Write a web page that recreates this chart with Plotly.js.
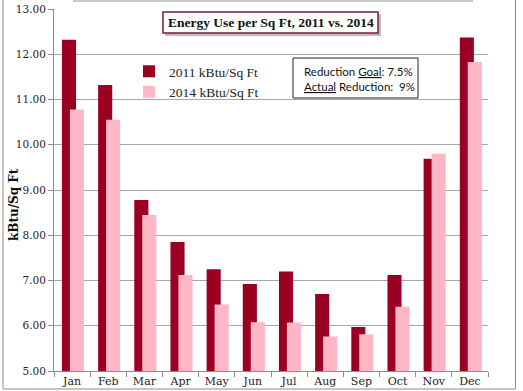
<!DOCTYPE html>
<html>
<head>
<meta charset="utf-8">
<script src="https://cdn.plot.ly/plotly-3.0.1.min.js"></script>
<style>html,body{margin:0;padding:0;background:#fff;}#chart{width:523px;height:391px;}</style>
</head>
<body>
<div id="chart"></div>
<script>
const months = ["Jan","Feb","Mar","Apr","May","Jun","Jul","Aug","Sep","Oct","Nov","Dec"];
const use2011 = [12.32, 11.32, 8.78, 7.85, 7.25, 6.92, 7.20, 6.70, 5.97, 7.12, 9.69, 12.37];
const use2014 = [10.78, 10.55, 8.45, 7.12, 6.47, 6.08, 6.07, 5.76, 5.81, 6.42, 9.80, 11.83];
const yTicks = [5, 6, 7, 8, 9, 10, 11, 12, 13];
const yTickText = yTicks.map(v => v.toFixed(2));
const seriesNames = ["2011 kBtu/Sq Ft", "2014 kBtu/Sq Ft"];

// plot area in px
const L = 54, R = 488, T = 9, B = 371;
const W = 523, H = 391;
const px = x => (x - L) / (R - L);
const py = y => (B - y) / (B - T);

const serif = "DejaVu Serif, serif";
const serif2 = "Liberation Serif, serif";
const sans = "Lato, Open Sans, sans-serif";

const traces = [
  {type: "bar", x: months, y: use2011, name: seriesNames[0],
   marker: {color: "#9B0022"}, width: 0.39, offset: -0.28, base: 0},
  {type: "bar", x: months, y: use2014, name: seriesNames[1],
   marker: {color: "#FFB7C5"}, width: 0.39, offset: -0.06, base: 0}
];

const layout = {
  width: W, height: H,
  margin: {l: L, r: W - R, t: T, b: H - B, pad: 0},
  paper_bgcolor: "#fff", plot_bgcolor: "#fff",
  barmode: "overlay",
  showlegend: true,
  legend: {x: px(129), y: py(56), xanchor: "left", yanchor: "top",
           font: {family: serif2, size: 13.5, color: "#222"},
           bgcolor: "rgba(0,0,0,0)", tracegroupgap: 6, itemwidth: 30},
  xaxis: {type: "category", range: [-0.5, 11.5], showgrid: false,
          showline: true, linecolor: "#8c8c8c", linewidth: 1,
          ticks: "outside", ticklen: 5, tickcolor: "#8c8c8c", tickson: "boundaries",
          tickfont: {family: serif, size: 11, color: "#222"}, fixedrange: true},
  yaxis: {range: [5, 13], tickvals: yTicks, ticktext: yTickText,
          showgrid: true, gridcolor: "#a6a6a6", gridwidth: 1,
          showline: true, linecolor: "#8c8c8c", linewidth: 1,
          ticks: "outside", ticklen: 5, tickcolor: "#8c8c8c",
          tickfont: {family: serif, size: 10.5, color: "#222"}, zeroline: false, fixedrange: true},
  shapes: [
    // outer frame (left, bottom, right)
    {type: "path", xref: "paper", yref: "paper",
     path: `M ${px(3)} ${py(0)} L ${px(3)} ${py(389)} L ${px(515.5)} ${py(389)} L ${px(515.5)} ${py(0)}`,
     line: {color: "#8c8c8c", width: 1}},
    {type: "line", xref: "paper", yref: "paper", x0: px(73), x1: px(473), y0: py(1), y1: py(1),
     line: {color: "#c8c8c8", width: 2}},
    // title box shadow
    {type: "rect", xref: "paper", yref: "paper", x0: px(165), x1: px(381), y0: py(14), y1: py(36),
     fillcolor: "#bdbdbd", line: {width: 0}, layer: "above"},
    // title box
    {type: "rect", xref: "paper", yref: "paper", x0: px(163), x1: px(378), y0: py(12), y1: py(33),
     fillcolor: "#fff", line: {color: "#7a1a2a", width: 1.5}, layer: "above"},
    // reduction text box
    {type: "rect", xref: "paper", yref: "paper", x0: px(293), x1: px(418), y0: py(58), y1: py(98),
     fillcolor: "#fff", line: {color: "#222", width: 1}, layer: "above"}
  ],
  annotations: [
    {xref: "paper", yref: "paper", x: px(270.5), y: py(22.5), xanchor: "center", yanchor: "middle",
     showarrow: false, text: "<b>Energy Use per Sq Ft, 2011 vs. 2014</b>",
     font: {family: serif2, size: 13.5, color: "#111"}},
    {xref: "paper", yref: "paper", x: px(302), y: py(71), xanchor: "left", yanchor: "middle",
     showarrow: false, text: "Reduction <u>Goal</u>: 7.5%",
     font: {family: sans, size: 11.5, color: "#111"}},
    {xref: "paper", yref: "paper", x: px(302), y: py(86.5), xanchor: "left", yanchor: "middle",
     showarrow: false, text: "<u>Actual</u> Reduction:  9%",
     font: {family: sans, size: 11.5, color: "#111"}},
    {xref: "paper", yref: "paper", x: px(14), y: py(205), xanchor: "center", yanchor: "middle",
     showarrow: false, textangle: -90, text: "<b>kBtu/Sq Ft</b>",
     font: {family: serif, size: 12, color: "#111"}}
  ]
};

Plotly.newPlot("chart", traces, layout, {displayModeBar: false, staticPlot: true});
</script>
</body>
</html>
